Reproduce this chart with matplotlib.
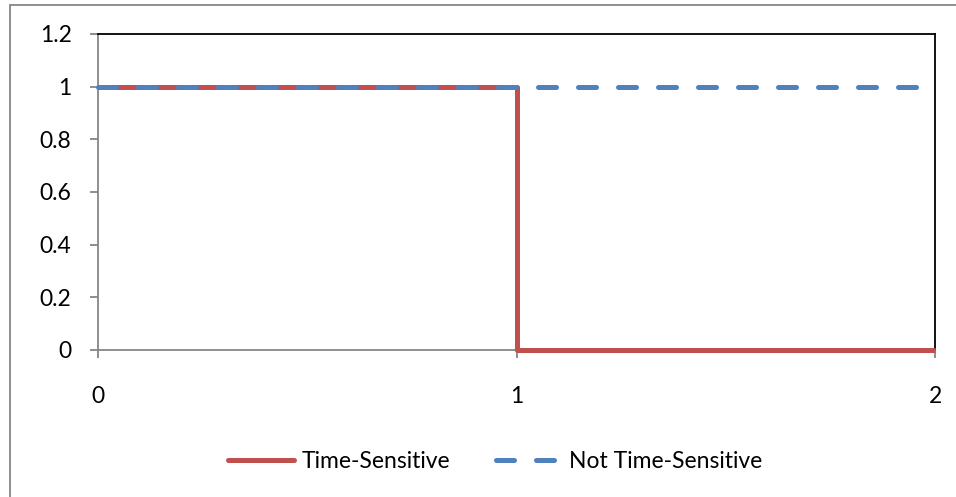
import matplotlib
matplotlib.use('agg')
from matplotlib import pyplot as plt
from matplotlib.patches import Rectangle
from matplotlib.lines import Line2D

plt.rcParams['font.family'] = ['Lato', 'DejaVu Sans']

# step response: time-sensitive value drops to zero at t=1
ts_x = [0, 1, 1, 2]
ts_y = [1, 1, 0, 0]
nts_x = [0, 2]
nts_y = [1, 1]
y_ticks = [0, 0.2, 0.4, 0.6, 0.8, 1, 1.2]
y_labels = ['0', '0.2', '0.4', '0.6', '0.8', '1', '1.2']
x_ticks = [0, 1, 2]
x_labels = ['0', '1', '2']

RED = '#C0504D'
BLUE = '#4F81BD'
GRAY = '#868686'
LW = 3.6
FS = 16.5

fig = plt.figure(figsize=(9.56, 4.97), dpi=100)
ax = fig.add_axes([98 / 956, 1 - 350 / 497, 837 / 956, 316 / 497])

# chart frame
fig.patches.append(Rectangle((10 / 956, -0.1), 1.2, 1 - 5 / 497 + 0.1,
                             transform=fig.transFigure, fill=False,
                             edgecolor=GRAY, linewidth=1.3))

ax.plot(ts_x, ts_y, color=RED, linewidth=LW, solid_capstyle='butt',
        clip_on=False, zorder=3)
ax.plot(nts_x, nts_y, color=BLUE, linewidth=LW, dashes=(3.6, 4.4),
        dash_capstyle='round', clip_on=False, zorder=4)

ax.set_xlim(0, 2)
ax.set_ylim(0, 1.2)
ax.set_yticks(y_ticks)
ax.set_yticklabels(y_labels)
ax.set_xticks(x_ticks)
ax.set_xticklabels(x_labels)

for side in ['top', 'right']:
    ax.spines[side].set_color('black')
    ax.spines[side].set_linewidth(1.3)
for side in ['left', 'bottom']:
    ax.spines[side].set_color(GRAY)
    ax.spines[side].set_linewidth(1.3)

ax.tick_params(axis='y', direction='out', length=6, width=1.3, color=GRAY,
               pad=13, labelsize=FS)
ax.tick_params(axis='x', direction='out', length=6, width=1.3, color=GRAY,
               pad=20, labelsize=FS)

handles = [Line2D([], [], color=RED, linewidth=LW, solid_capstyle='round'),
           Line2D([], [], color=BLUE, linewidth=LW, dashes=(3.6, 4.4),
                  dash_capstyle='round')]
fig.legend(handles, ['Time-Sensitive', 'Not Time-Sensitive'],
           loc='center', bbox_to_anchor=(495 / 956, 1 - 462 / 497), ncol=2,
           frameon=False, fontsize=FS, handlelength=2.9,
           handletextpad=0.3, columnspacing=2.0)

fig.savefig('out.png', dpi=100)
plt.close(fig)
